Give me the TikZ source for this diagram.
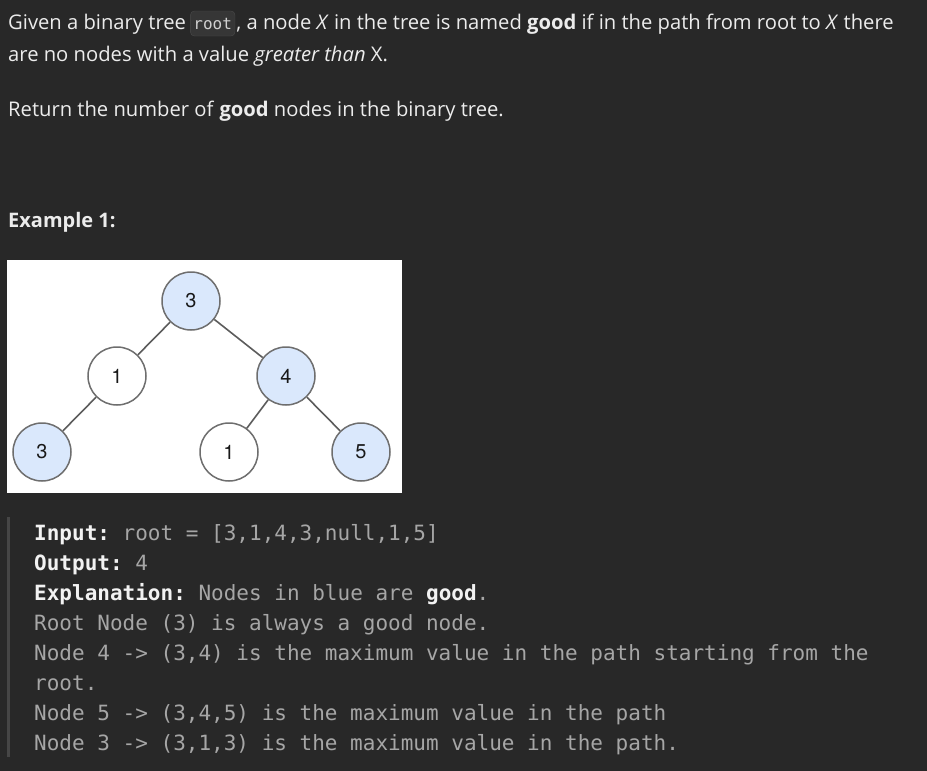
\documentclass[tikz,border=0pt]{standalone}
\usepackage{fontspec}
\setmainfont{Open Sans}
\setmonofont{DejaVu Sans Mono}
\newfontfamily\treefont{TeX Gyre Heros}
\usetikzlibrary{positioning}

\definecolor{pagebg}{HTML}{282828}
\definecolor{maintext}{HTML}{ECECEC}
\definecolor{codetext}{HTML}{A6A6A6}
\definecolor{codebold}{HTML}{F2F2F2}
\definecolor{chipbg}{HTML}{363636}
\definecolor{chipedge}{HTML}{4A4A4A}
\definecolor{barcol}{HTML}{464646}
\definecolor{goodfill}{HTML}{DAE8FC}
\definecolor{nodeedge}{HTML}{6E6E6E}
\definecolor{edgecol}{HTML}{5C5C5C}

\begin{document}
\begin{tikzpicture}[x=1pt, y=-1pt,
    txt/.style={anchor=base west, inner sep=0pt, text=maintext, font=\fontsize{20.2}{24}\selectfont},
    chip/.style={anchor=base west, draw=chipedge, fill=chipbg, rounded corners=4pt, inner xsep=3pt, inner ysep=0pt,
        text height=19pt, text depth=6pt, text=maintext!88!black, font=\ttfamily\fontsize{16}{18}\selectfont},
    code/.style={anchor=base west, inner sep=0pt, text=codetext, font=\ttfamily\fontsize{21}{24}\selectfont},
    tnode/.style={circle, draw=nodeedge, line width=1.5pt, minimum size=58pt, inner sep=0pt, text=black!90, font={\treefont\fontsize{20}{24}\selectfont}},
    good/.style={tnode, fill=goodfill},
    other/.style={tnode, fill=white},
    edge/.style={draw=edgecol, line width=1.6pt}]
    \useasboundingbox[fill=pagebg] (0,0) rectangle (927,771);

    % problem text
    \node[txt] (given) at (8,30) {Given a binary tree};
    \node[chip] (rootcode) at ([xshift=4pt]given.base east) {root};
    \node[txt] (named) at ([xshift=1pt]rootcode.base east) {, a node \textit{X} in the tree is named \textbf{good} if in the path from root to \textit{X} there};
    \node[txt] (greater) at (8,61) {are no nodes with a value \textit{greater than} X.};
    \node[txt] (ret) at (8,116) {Return the number of \textbf{good} nodes in the binary tree.};
    \node[txt, font=\bfseries\fontsize{20}{24}\selectfont] (example) at (8,227) {Example 1:};

    % tree picture
    \fill[white] (7,260) rectangle (402,493);
    \node[good] (root) at (191,301) {3};
    \node[other] (left) at (117,376) {1};
    \node[good] (right) at (286,376) {4};
    \node[good] (leftleft) at (42,452) {3};
    \node[other] (rightleft) at (229,452) {1};
    \node[good] (rightright) at (361,452) {5};

    \draw[edge] (root) -- (left);
    \draw[edge] (root) -- (right);
    \draw[edge] (left) -- (leftleft);
    \draw[edge] (right) -- (rightleft);
    \draw[edge] (right) -- (rightright);

    % example block
    \fill[barcol] (7,517) rectangle (10,757);
    \node[code] (input) at (34,540) {\textcolor{codebold}{\textbf{Input:}} root = [3,1,4,3,null,1,5]};
    \node[code] (output) at (34,570) {\textcolor{codebold}{\textbf{Output:}} 4};
    \node[code] (expl) at (34,600) {\textcolor{codebold}{\textbf{Explanation:}} Nodes in blue are \textcolor{codebold}{\textbf{good}}.};
    \node[code] (rootline) at (34,630) {Root Node (3) is always a good node.};
    \node[code] (four) at (34,660) {Node 4 -> (3,4) is the maximum value in the path starting from the};
    \node[code] (fourb) at (34,690) {root.};
    \node[code] (five) at (34,720) {Node 5 -> (3,4,5) is the maximum value in the path};
    \node[code] (three) at (34,750) {Node 3 -> (3,1,3) is the maximum value in the path.};
\end{tikzpicture}
\end{document}
